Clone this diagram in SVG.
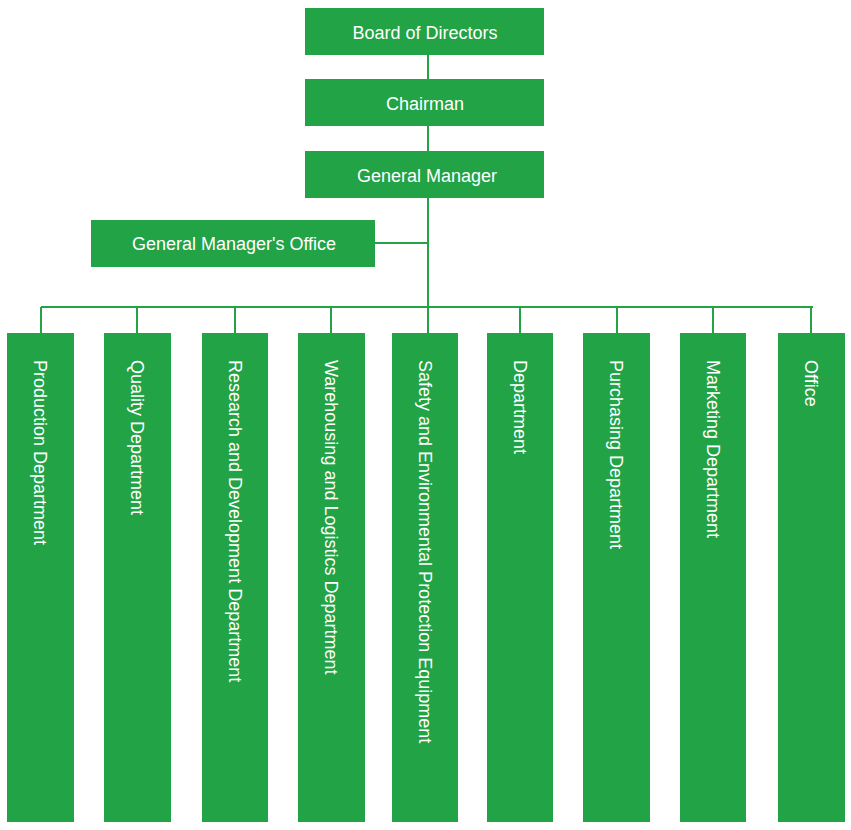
<svg xmlns="http://www.w3.org/2000/svg" width="851" height="830" viewBox="0 0 851 830">
<style>
.b{fill:#21a346}
.t{fill:#fff;font-family:"Liberation Sans",Arial,sans-serif;font-size:18px}
.c{stroke:#21a346;stroke-width:2;fill:none}
</style>
<rect width="851" height="830" fill="#fff"/>
<g id="connectors" class="c">
<path d="M428 55V307M375 243H428M41 307H813"/>
<path d="M41 307V333M137 307V333M235 307V333M331 307V333M428 307V333M520 307V333M617 307V333M713 307V333M811 307V333"/>
</g>
<g id="board"><rect class="b" x="305" y="8" width="239" height="47"/><text class="t" x="425" y="39" text-anchor="middle">Board of Directors</text></g>
<g id="chairman"><rect class="b" x="305" y="79" width="239" height="47"/><text class="t" x="425" y="110" text-anchor="middle">Chairman</text></g>
<g id="gm"><rect class="b" x="305" y="151" width="239" height="47"/><text class="t" x="427" y="182" text-anchor="middle">General Manager</text></g>
<g id="gmo"><rect class="b" x="91" y="220" width="284" height="47"/><text class="t" x="234" y="250" text-anchor="middle">General Manager's Office</text></g>
<g id="d1"><rect class="b" x="7" y="333" width="67" height="489"/><text class="t" transform="translate(34,360) rotate(90)">Production Department</text></g>
<g id="d2"><rect class="b" x="104" y="333" width="67" height="489"/><text class="t" transform="translate(131,360) rotate(90)">Quality Department</text></g>
<g id="d3"><rect class="b" x="202" y="333" width="66" height="489"/><text class="t" transform="translate(229,360) rotate(90)">Research and Development Department</text></g>
<g id="d4"><rect class="b" x="298" y="333" width="67" height="489"/><text class="t" transform="translate(325,360) rotate(90)">Warehousing and Logistics Department</text></g>
<g id="d5"><rect class="b" x="392" y="333" width="66" height="489"/><text class="t" transform="translate(419,360) rotate(90)">Safety and Environmental Protection Equipment</text></g>
<g id="d6"><rect class="b" x="487" y="333" width="66" height="489"/><text class="t" transform="translate(514,360) rotate(90)">Department</text></g>
<g id="d7"><rect class="b" x="583" y="333" width="67" height="489"/><text class="t" transform="translate(610,360) rotate(90)">Purchasing Department</text></g>
<g id="d8"><rect class="b" x="680" y="333" width="66" height="489"/><text class="t" transform="translate(707,360) rotate(90)">Marketing Department</text></g>
<g id="d9"><rect class="b" x="778" y="333" width="67" height="489"/><text class="t" transform="translate(805,360) rotate(90)">Office</text></g>
</svg>
